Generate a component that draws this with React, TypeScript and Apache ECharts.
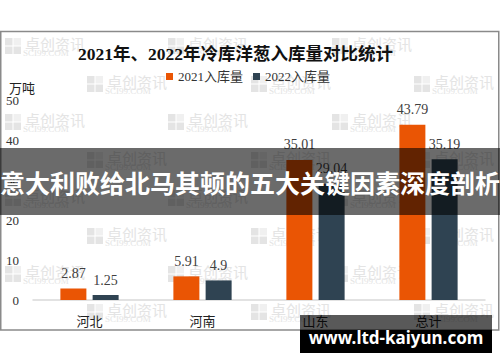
import React, { useEffect, useRef } from "react";
import * as echarts from "echarts";

const categories = ["河北", "河南", "山东", "总计"];
const values2021 = [2.87, 5.91, 35.01, 43.79];
const values2022 = [1.25, 4.9, 29.04, 35.19];
const seriesNames = ["2021入库量", "2022入库量"];
const yTicks = { min: 0, max: 50, interval: 10 };
const titleText = "2021年、2022年冷库洋葱入库量对比统计";
const unitText = "万吨";
const bannerText = "意大利败给北马其顿的五大关键因素深度剖析";
const footerText = "www.ltd-kaiyun.com";

const SERIF = "'Liberation Serif', 'Noto Sans CJK SC', serif";

function watermark(x: number, y: number): any[] {
  const c = "#e4e4e4";
  return [
    { type: "rect", z: 0, silent: true, shape: { x: x, y: y - 4, width: 7.5, height: 7.5 }, style: { fill: c } },
    { type: "rect", z: 0, silent: true, shape: { x: x + 8.5, y: y - 4, width: 7.5, height: 7.5 }, style: { fill: "#f0f0f0" } },
    { type: "rect", z: 0, silent: true, shape: { x: x, y: y + 4.5, width: 7.5, height: 7.5 }, style: { fill: c } },
    { type: "rect", z: 0, silent: true, shape: { x: x + 8.5, y: y + 4.5, width: 7.5, height: 7.5 }, style: { fill: c } },
    {
      type: "text", z: 0, silent: true, x: x + 20, y: y + 1,
      style: { text: "卓创资讯", font: "15px 'Noto Sans CJK SC'", fill: c, textVerticalAlign: "middle" },
    },
    {
      type: "text", z: 0, silent: true, x: x + 18, y: y + 11,
      style: { text: "SCI99.COM", font: "9px 'Liberation Serif'", fill: c, textVerticalAlign: "middle" },
    },
  ];
}

export default function App() {
  const ref = useRef<HTMLDivElement>(null);
  useEffect(() => {
    if (!ref.current) return;
    const chart = echarts.init(ref.current, null, { renderer: "svg" });

    const marks: any[] = [];
    for (let r = 0; r < 8; r++) {
      const y = 42 + r * 38;
      const xs = r % 2 === 0 ? [5, 168, 332] : [87, 251, 414];
      xs.forEach((x) => marks.push(...watermark(x, y)));
    }

    const labelStyle = {
      show: true,
      position: "top" as const,
      distance: 8,
      fontFamily: SERIF,
      fontSize: 14,
      color: "#404040",
    };

    chart.setOption({
      animation: false,
      backgroundColor: "#ffffff",
      title: {
        text: titleText,
        left: 78,
        top: 45,
        padding: 0,
        textStyle: { fontFamily: SERIF, fontSize: 17.5, fontWeight: "bold", color: "#111" },
      },
      legend: {
        data: seriesNames,
        left: 166,
        top: 70,
        padding: 0,
        itemWidth: 7,
        itemHeight: 7,
        itemGap: 10,
        icon: "rect",
        textStyle: { fontFamily: SERIF, fontSize: 13, color: "#333" },
      },
      grid: { left: 33, right: 15, top: 100, bottom: 62, containLabel: false },
      xAxis: {
        type: "category",
        data: categories,
        axisLine: { show: true, lineStyle: { color: "#d9d9d9", width: 1.5 } },
        axisTick: { show: false },
        axisLabel: { margin: 15, fontFamily: SERIF, fontSize: 13, color: "#222" },
      },
      yAxis: {
        type: "value",
        min: yTicks.min,
        max: yTicks.max,
        interval: yTicks.interval,
        axisLine: { show: false },
        axisTick: { show: false },
        splitLine: { show: false },
        axisLabel: { margin: 14, fontFamily: SERIF, fontSize: 13, color: "#333" },
      },
      series: [
        {
          name: seriesNames[0],
          type: "bar",
          data: values2021,
          barWidth: 26,
          barGap: "24%",
          itemStyle: { color: "#ea5504" },
          label: labelStyle,
        },
        {
          name: seriesNames[1],
          type: "bar",
          data: values2022,
          barWidth: 26,
          barGap: "24%",
          itemStyle: { color: "#2f4352" },
          label: labelStyle,
        },
      ],
      graphic: [
        ...marks,
        {
          type: "rect", z: 1, silent: true,
          shape: { x: 0.75, y: 31.5, width: 498, height: 298.5 },
          style: { fill: "none", stroke: "#8a8a8a", lineWidth: 1.5 },
        },
        {
          type: "text", z: 5, x: 9, y: 88,
          style: { text: unitText, font: "13px " + SERIF, fill: "#222", textVerticalAlign: "middle" },
        },
        {
          type: "rect", z: 100, silent: true,
          shape: { x: 0, y: 148, width: 500, height: 67 },
          style: { fill: "rgba(0,0,0,0.58)" },
        },
        {
          type: "text", z: 101, x: 250, y: 182,
          style: {
            text: bannerText,
            font: "bold 25px 'Noto Sans CJK SC'",
            fill: "#ffffff",
            textAlign: "center",
            textVerticalAlign: "middle",
          },
        },
        {
          type: "rect", z: 100, silent: true,
          shape: { x: 300, y: 315, width: 192, height: 15 },
          style: { fill: "rgba(0,0,0,0.65)" },
        },
        {
          type: "rect", z: 100, silent: true,
          shape: { x: 300, y: 330, width: 192, height: 23 },
          style: { fill: "#000000" },
        },
        {
          type: "text", z: 101, x: 396, y: 337,
          style: {
            text: footerText,
            font: "bold 17px 'Noto Sans'",
            fill: "#ffffff",
            textAlign: "center",
            textVerticalAlign: "middle",
          },
        },
      ],
    });

    return () => chart.dispose();
  }, []);

  return (
    <div
      ref={ref}
      style={{ position: "absolute", left: 0, top: 0, width: 500, height: 362 }}
    />
  );
}
